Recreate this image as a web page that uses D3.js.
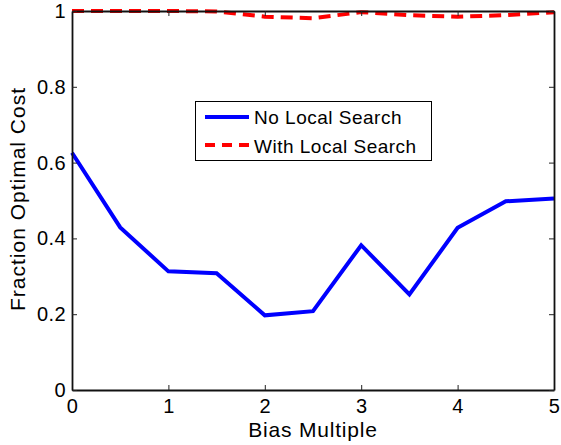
<!DOCTYPE html>
<html>
<head>
<meta charset="utf-8">
<script src="https://cdnjs.cloudflare.com/ajax/libs/d3/7.8.5/d3.min.js"></script>
<style>
  html, body { margin: 0; padding: 0; background: #fff; }
  svg { display: block; font-family: "Liberation Sans", Arial, Helvetica, sans-serif; }
</style>
</head>
<body>
<svg id="chart" width="561" height="445"></svg>
<script>
// Bias multiples along the x axis
const biasMultiple = [0, 0.5, 1, 1.5, 2, 2.5, 3, 3.5, 4, 4.5, 5];
// Fraction of optimal cost for each setting
const noLocalSearch = [0.626, 0.429, 0.313, 0.308, 0.197, 0.208, 0.382, 0.252, 0.428, 0.498, 0.505];
const withLocalSearch = [1.0, 1.0, 1.0, 0.999, 0.985, 0.981, 0.997, 0.989, 0.985, 0.989, 0.997];
const xTicks = [0, 1, 2, 3, 4, 5];
const yTicks = [0, 0.2, 0.4, 0.6, 0.8, 1];
const seriesNames = ["No Local Search", "With Local Search"];

const svg = d3.select("#chart");
const plotLeft = 72, plotRight = 554, plotTop = 11, plotBottom = 390;

const x = d3.scaleLinear().domain([0, 5]).range([plotLeft, plotRight]);
const y = d3.scaleLinear().domain([0, 1]).range([plotBottom, plotTop]);

// Series lines
const line = d3.line().x((d, i) => x(biasMultiple[i])).y(d => y(d));

svg.append("path")
  .datum(noLocalSearch)
  .attr("d", line)
  .attr("fill", "none")
  .attr("stroke", "#0000ff")
  .attr("stroke-width", 4)
  .attr("stroke-linejoin", "miter");

svg.append("path")
  .datum(withLocalSearch)
  .attr("d", line)
  .attr("fill", "none")
  .attr("stroke", "#ff0000")
  .attr("stroke-width", 4)
  .attr("stroke-dasharray", "12,7");

// Axes (inward ticks on all four sides, box frame)
const tickLen = 5;
const axB = d3.axisBottom(x).tickValues(xTicks).tickSizeInner(-tickLen).tickSizeOuter(0).tickPadding(9).tickFormat(d3.format("d"));
const axT = d3.axisTop(x).tickValues(xTicks).tickSizeInner(-tickLen).tickSizeOuter(0).tickFormat("");
const axL = d3.axisLeft(y).tickValues(yTicks).tickSizeInner(-tickLen).tickSizeOuter(0).tickPadding(6).tickFormat(d => d === 0 || d === 1 ? d3.format("d")(d) : d3.format(".1f")(d));
const axR = d3.axisRight(y).tickValues(yTicks).tickSizeInner(-tickLen).tickSizeOuter(0).tickFormat("");

function style(g) {
  g.selectAll(".domain").attr("stroke", "#111").attr("stroke-width", 1.8);
  g.selectAll(".tick line").attr("stroke", "#222").attr("stroke-width", 1);
  g.selectAll(".tick text").attr("fill", "#000")
    .style("font-size", "20px")
    .style("letter-spacing", "0.4px")
    .style("font-family", "Liberation Sans, Arial, sans-serif");
}

svg.append("g").attr("transform", `translate(0,${plotBottom})`).call(axB).call(style);
svg.append("g").attr("transform", `translate(0,${plotTop})`).call(axT).call(style);
svg.append("g").attr("transform", `translate(${plotLeft},0)`).call(axL).call(style);
svg.append("g").attr("transform", `translate(${plotRight},0)`).call(axR).call(style);

// Axis titles
svg.append("text")
  .attr("x", (plotLeft + plotRight) / 2)
  .attr("y", 436.5)
  .attr("text-anchor", "middle")
  .style("font-size", "21px")
  .style("letter-spacing", "0.8px")
  .text("Bias Multiple");

svg.append("text")
  .attr("transform", "translate(25,199) rotate(-90)")
  .attr("text-anchor", "middle")
  .style("font-size", "21px")
  .style("letter-spacing", "1px")
  .text("Fraction Optimal Cost");

// Legend
const legend = svg.append("g");
legend.append("rect")
  .attr("x", 195.5).attr("y", 101.5)
  .attr("width", 236).attr("height", 59)
  .attr("fill", "#fff").attr("stroke", "#000").attr("stroke-width", 1);

const legendStyles = [
  { color: "#0000ff", dash: null, cy: 117, base: 124.3 },
  { color: "#ff0000", dash: "10,7", cy: 145, base: 153.3 }
];
seriesNames.forEach((name, i) => {
  const s = legendStyles[i];
  legend.append("line")
    .attr("x1", 205).attr("x2", 249)
    .attr("y1", s.cy).attr("y2", s.cy)
    .attr("stroke", s.color).attr("stroke-width", 4)
    .attr("stroke-dasharray", s.dash);
  legend.append("text")
    .attr("x", 254).attr("y", s.base)
    .style("font-size", "19px")
    .style("letter-spacing", "0.5px")
    .text(name);
});
</script>
</body>
</html>
